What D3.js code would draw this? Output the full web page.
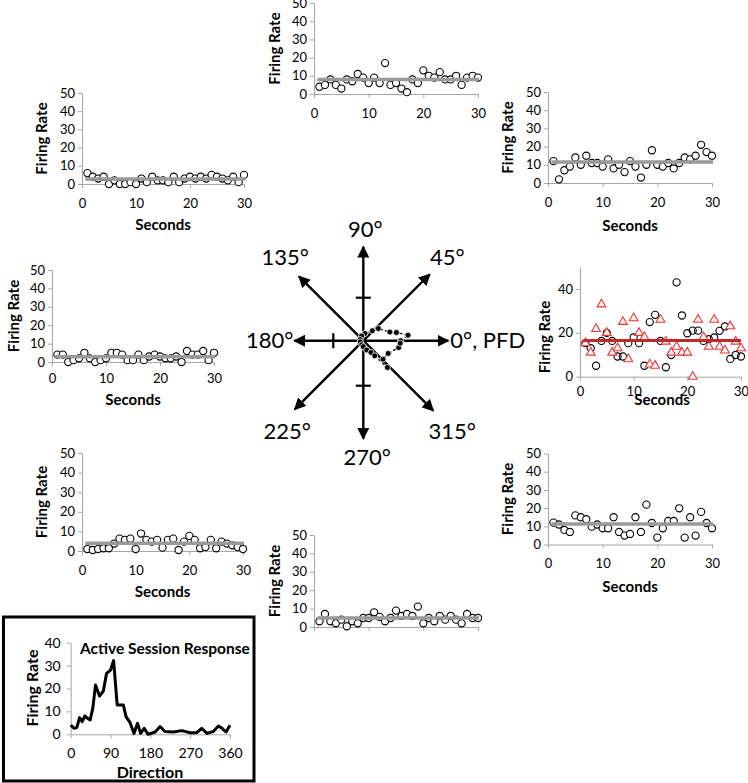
<!DOCTYPE html>
<html><head><meta charset="utf-8">
<script src="https://cdn.jsdelivr.net/npm/d3@7"></script>
<style>
body{margin:0;background:#fff}
svg{display:block}
text{font-family:Lato,"Open Sans",sans-serif}
</style>
</head><body>
<svg id="c" width="748" height="783"></svg>
<script>
// ---------------- DATA ----------------
const seconds = [1,2,3,4,5,6,7,8,9,10,11,12,13,14,15,16,17,18,19,20,21,22,23,24,25,26,27,28,29,30];
const secTicks = [0,10,20,30];
const rateTicks = [0,10,20,30,40,50];
const rateTicksPFD = [0,20,40];

const rate0Circles = [15.3,13,5,16.3,20,16.3,9.2,9.2,15.3,17.9,15.3,5,24.9,28.2,16.3,4.3,9.9,43,27.9,19.8,21,21,16.3,17.1,17.9,20.9,22.9,8.1,9.9,9.2];
const rate0Triangles = [15.3,11,21.8,33,20,11,13,25,8,26.7,20,18,5.6,5,26,16,11,13.7,11,11,0,26,18,13.7,26,13.7,12,23,16,13];
const rate45 = [12,2,7,9,14,10,15,11,11,9,13,8,10,6,12,9,3,10,18,10,9,11,8,11,14,13,15,21,17,15];
const rate90 = [4,5,8,5,3,8,7,11,9,6,9,6,17,5,6,3,1,8,6,13,10,9,12,8,8,10,5,9,10,9];
const rate135 = [6,4,3,4,0,2,0,0,1,0,3,1,4,2,2,1,4,1,3,4,3,4,3,5,4,3,2,4,1,5];
const rate180 = [4,4,0,1,2,5,2,0,1,2,5,5,4,1,1,4,1,3,4,3,2,2,3,0,6,4,4,6,1,5];
const rate225 = [1,0.5,1,1.4,1.4,3.8,6.3,5.7,6.3,1,8.9,5.7,4.8,5.7,1.7,5.7,6.3,0.5,4.8,7.7,5.7,1.4,2,5.7,1.4,4.8,3.8,2.9,2,1];
const rate270 = [3.1,7.1,3.1,2,4,0.4,3.1,2,4.9,4.9,8,5.5,3.1,4.9,8.9,6,7.1,6,11.1,2,4.9,3.1,6,4,6,4,2,7.1,4.9,4.9];
const rate315 = [12,11,8,6.9,16,15,13.9,9.8,11,8.9,8.9,15,6.9,4.9,5.8,15,6.9,21.9,11.8,3.8,8.9,12.9,12.9,19.9,3.8,15,4.9,17.9,11.8,8.9];
const meanRates = {d0:16.5, d45:11.5, d90:7.9, d135:2.7, d180:2.9, d225:4, d270:4.9, d315:11.2};
const meanSpan = [0.6, 30.2];

const compassAngles = [0,45,90,135,180,225,270,315];
const compassLabels = ["0°, PFD","45°","90°","135°","180°","225°","270°","315°"];
const polarAngles = [0,7,14,18,39,48,77,110,160,200,250,270,290,303,307,312,317,333,349,356];
const polarRates = [17,20.5,15.5,12.7,8.8,6.1,3.4,2.3,1.5,1.5,2,2.7,4.5,6.4,8.6,16.4,12.3,12.7,16.4,16.8];

const dirTicks = [0,90,180,270,360];
const activeRateTicks = [0,10,20,30,40];
const activeDirections = [0,8,14,20,26,32,38,44,50,56,65,74,81,90,97,105,119,125,134,143,151,158,166,175,191,202,213,232,251,270,285,296,308,322,334,342,351,360];
const activeRates = [4,2.6,3,7.3,5.5,8,7,6.3,11.4,21.5,16.7,19,26.6,28,32.2,12.8,12.8,7.7,5.2,0.4,4.8,0.4,2.6,0,1,3.4,1.2,1,1.6,0.7,0.7,2.6,0.4,1.2,3.6,2.6,1,4];

// ---------------- DRAW ----------------
const svg = d3.select('#c');
const FONT = 'Lato, "Open Sans", sans-serif';
const AXIS = '#a6a6a6';

function styleAxis(a){
  a.attr('font-family', FONT).attr('font-size', 13);
  a.select('.domain').attr('stroke', AXIS).attr('stroke-width', 1);
  a.selectAll('.tick line').attr('stroke', AXIS);
  a.selectAll('.tick text').attr('fill', '#000');
}

function drawPanel(p){
  const x = d3.scaleLinear().domain([0,30]).range([p.x0,p.x1]);
  const y = d3.scaleLinear().domain([0,50]).range([p.y0,p.y1]);
  const g = svg.append('g');
  const xa = g.append('g').attr('transform',`translate(0,${p.y0})`)
    .call(d3.axisBottom(x).tickValues(secTicks).tickSize(4).tickSizeOuter(0)
      .tickFormat(p.showX === false ? () => '' : d3.format('d')));
  styleAxis(xa);
  xa.selectAll('.tick text').attr('y', p.xLabOff || 19).attr('dy','0.35em');
  const ya = g.append('g').attr('transform',`translate(${p.x0},0)`)
    .call(d3.axisLeft(y).tickValues(p.yTicks || rateTicks).tickSize(4).tickSizeOuter(0));
  styleAxis(ya);
  ya.selectAll('.tick text').attr('x', -7);

  const fy = p.frY !== undefined ? p.frY : (p.y0 + p.y1)/2;
  g.append('text').attr('transform',`translate(${p.frX},${fy}) rotate(-90)`)
    .attr('text-anchor','middle').attr('dy','0.35em')
    .attr('font-weight','bold').attr('font-size',15).text('Firing Rate');
  if (p.secY !== undefined){
    g.append('text').attr('x', p.secX !== undefined ? p.secX : (p.x0+p.x1)/2).attr('y', p.secY)
      .attr('text-anchor','middle').attr('dy','0.35em')
      .attr('font-weight','bold').attr('font-size',15).text('Seconds');
  }
  g.selectAll('circle.pt').data(p.values).enter().append('circle')
    .attr('class','pt')
    .attr('cx',(d,i)=>x(seconds[i])).attr('cy',d=>y(d)).attr('r',3.6)
    .attr('fill', p.triangles ? 'none' : '#fff').attr('stroke','#000').attr('stroke-width',1.1);
  if (p.triangles){
    g.selectAll('path.tri').data(p.triangles).enter().append('path')
      .attr('class','tri')
      .attr('d', d3.symbol().type(d3.symbolTriangle).size(34))
      .attr('transform',(d,i)=>`translate(${x(seconds[i])},${y(d)})`)
      .attr('fill','#fff4f4').attr('stroke','#e5393b').attr('stroke-width',1.1);
  }
  g.append('line')
    .attr('x1', x(meanSpan[0])).attr('x2', x(p.lineEnd || meanSpan[1]))
    .attr('y1', y(p.mean)).attr('y2', y(p.mean))
    .attr('stroke', p.lineColor || '#9a9a9a').attr('stroke-width', p.lineWidth || 3.5);
}

drawPanel({x0:82,x1:244,y0:184,y1:93,values:rate135,mean:meanRates.d135,frX:42,secY:225});
drawPanel({x0:314,x1:478,y0:94,y1:3,values:rate90,mean:meanRates.d90,frX:275});
drawPanel({x0:548,x1:712,y0:183,y1:92,values:rate45,mean:meanRates.d45,frX:508,secY:226});
drawPanel({x0:52,x1:214,y0:362,y1:270,values:rate180,mean:meanRates.d180,frX:14,secY:400,xLabOff:16});
drawPanel({x0:580,x1:741,y0:376.7,y1:267,values:rate0Circles,triangles:rate0Triangles,mean:meanRates.d0,
  yTicks:rateTicksPFD,frX:545,frY:337,secY:400,secX:662,xLabOff:15,lineColor:'#c0282a',lineWidth:3,lineEnd:30});
drawPanel({x0:82,x1:243,y0:551,y1:453,values:rate225,mean:meanRates.d225,frX:42,secY:592});
drawPanel({x0:314,x1:478,y0:627,y1:535,values:rate270,mean:meanRates.d270,frX:275,showX:false});
drawPanel({x0:548,x1:712,y0:544.5,y1:453.5,values:rate315,mean:meanRates.d315,frX:508,secY:587});

// ---------------- COMPASS ----------------
const cx = 363.3, cy = 340.7;
const arrowLen = {0:85,45:94,90:94,135:91,180:69,225:97,270:98,315:99};
const defs = svg.append('defs');
defs.append('marker').attr('id','ah').attr('viewBox','0 0 10 10')
  .attr('refX',9).attr('refY',5).attr('markerWidth',12).attr('markerHeight',12)
  .attr('markerUnits','userSpaceOnUse').attr('orient','auto')
  .append('path').attr('d','M0,0L10,5L0,10z').attr('fill','#000');
const cg = svg.append('g');
compassAngles.forEach(a => {
  const rad = a*Math.PI/180, L = arrowLen[a];
  cg.append('line').attr('x1',cx).attr('y1',cy)
    .attr('x2',cx + L*Math.cos(rad)).attr('y2',cy - L*Math.sin(rad))
    .attr('stroke','#000').attr('stroke-width',2.4).attr('marker-end','url(#ah)');
});
[[90,43],[180,30],[270,45]].forEach(([a,r])=>{
  const rad=a*Math.PI/180, px=cx+r*Math.cos(rad), py=cy-r*Math.sin(rad);
  const nx=-Math.sin(rad)*7.5, ny=-Math.cos(rad)*7.5;
  cg.append('line').attr('x1',px-nx).attr('y1',py-ny).attr('x2',px+nx).attr('y2',py+ny)
    .attr('stroke','#000').attr('stroke-width',2.2);
});
const labelPos = {0:[87,0,'start'],45:[84,-83,'middle'],90:[2,-111,'middle'],135:[-78,-83,'middle'],
  180:[-70,0,'end'],225:[-76,91,'middle'],270:[4,117,'middle'],315:[89,91,'middle']};
compassAngles.forEach((a,i)=>{
  const [dx,dy,anc] = labelPos[a];
  cg.append('text').attr('x',cx+dx).attr('y',cy+dy).attr('dy','0.35em')
    .attr('text-anchor',anc).attr('font-size',22).text(compassLabels[i]);
});
const rScale = d3.scaleLinear().domain([0,20]).range([0,44]);
const polarPts = polarAngles.map((a,i)=>[a*Math.PI/180, rScale(polarRates[i])]);
const radial = d3.lineRadial().angle(d=>Math.PI/2 - d[0]).radius(d=>d[1]).curve(d3.curveLinearClosed);
const pg = cg.append('g').attr('transform',`translate(${cx},${cy})`);
pg.append('path').attr('d',radial(polarPts)).attr('fill','none').attr('stroke','#000').attr('stroke-width',1.3)
  .attr('stroke-dasharray','3,2');
pg.selectAll('circle').data(polarPts).enter().append('circle')
  .attr('cx',d=>d[1]*Math.cos(d[0])).attr('cy',d=>-d[1]*Math.sin(d[0]))
  .attr('r',3).attr('fill','#000').attr('stroke','#fff').attr('stroke-width',0.8);

// ---------------- INSET ----------------
const ig = svg.append('g');
ig.append('rect').attr('x',3.5).attr('y',617).attr('width',250.5).attr('height',164)
  .attr('fill','#fff').attr('stroke','#000').attr('stroke-width',3);
const ix = d3.scaleLinear().domain([0,360]).range([70.7,230]);
const iy = d3.scaleLinear().domain([0,40]).range([734.3,642.7]);
const ixa = ig.append('g').attr('transform','translate(0,734.3)')
  .call(d3.axisBottom(ix).tickValues(dirTicks).tickSize(4).tickSizeOuter(0));
styleAxis(ixa); ixa.attr('font-size',14);
ixa.selectAll('.tick text').attr('y',19).attr('dy','0.35em');
const iya = ig.append('g').attr('transform','translate(70.7,0)')
  .call(d3.axisLeft(iy).tickValues(activeRateTicks).tickSize(4).tickSizeOuter(0));
styleAxis(iya); iya.attr('font-size',14);
iya.selectAll('.tick text').attr('x',-10);
ig.append('path').datum(activeDirections.map((d,i)=>[d,activeRates[i]]))
  .attr('d', d3.line().x(d=>ix(d[0])).y(d=>iy(d[1])))
  .attr('fill','none').attr('stroke','#000').attr('stroke-width',3).attr('stroke-linejoin','round');
ig.append('text').attr('x',80).attr('y',649).attr('dy','0.35em').attr('font-weight','bold')
  .attr('font-size',15.5).text('Active Session Response');
ig.append('text').attr('x',150).attr('y',772).attr('dy','0.35em').attr('text-anchor','middle')
  .attr('font-weight','bold').attr('font-size',16).text('Direction');
ig.append('text').attr('transform','translate(32,688) rotate(-90)').attr('text-anchor','middle').attr('dy','0.35em')
  .attr('font-weight','bold').attr('font-size',16).text('Firing Rate');
</script>
</body></html>
